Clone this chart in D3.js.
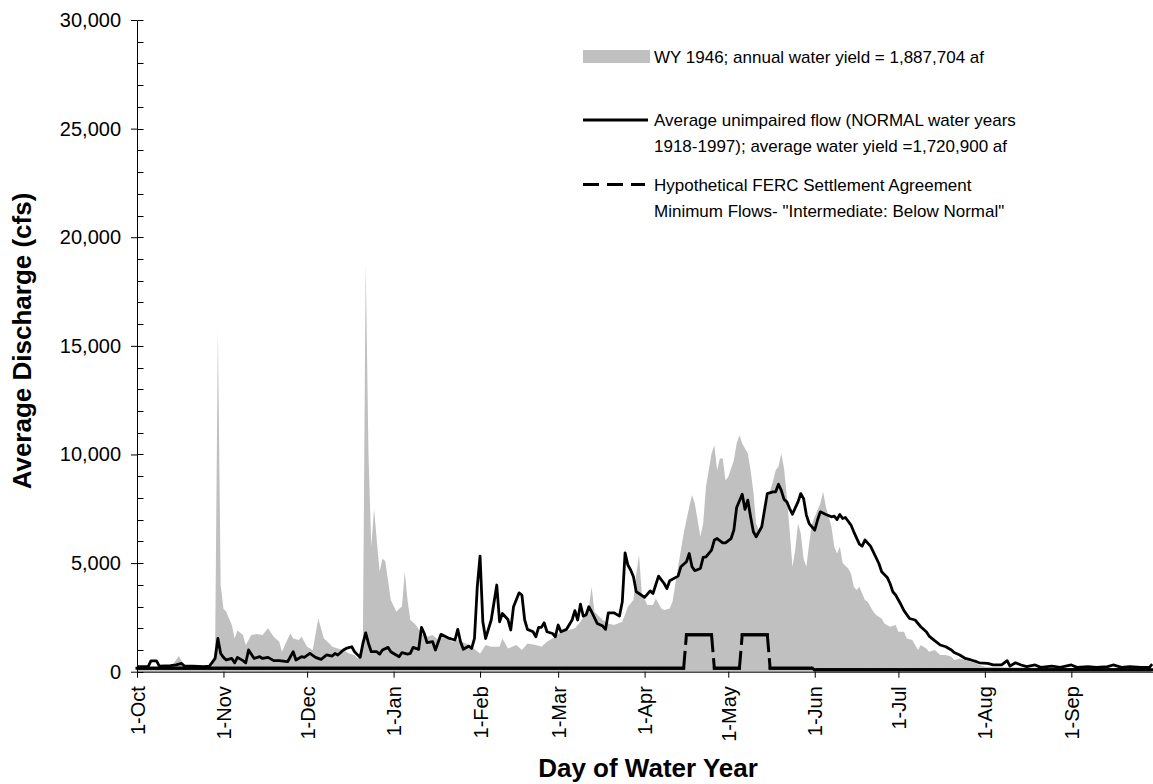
<!DOCTYPE html>
<html>
<head>
<meta charset="utf-8">
<script src="https://cdn.jsdelivr.net/npm/d3@7"></script>
<style>
  html, body { margin: 0; padding: 0; background: #fff; }
  svg { display: block; font-family: "Liberation Sans", Arial, sans-serif; }
</style>
</head>
<body>
<svg id="chart" width="1153" height="784"></svg>
<script>
// Month starts, as day of the water year (1 Oct = day 0)
const monthDays   = [0, 31, 61, 92, 123, 151, 182, 212, 243, 273, 304, 335];
const monthLabels = ["1-Oct", "1-Nov", "1-Dec", "1-Jan", "1-Feb", "1-Mar", "1-Apr", "1-May", "1-Jun", "1-Jul", "1-Aug", "1-Sep"];

const yMajorTicks = [0, 5000, 10000, 15000, 20000, 25000, 30000];
const yMinorTicks = [1000, 2000, 3000, 4000, 6000, 7000, 8000, 9000, 11000, 12000, 13000, 14000,
                     16000, 17000, 18000, 19000, 21000, 22000, 23000, 24000, 26000, 27000, 28000, 29000];

// WY 1946 daily discharge (cfs): [day of water year, cfs]
const wy1946 = [
  [0,150],[5,150],[10,200],[13,350],[15,720],[17,250],[20,200],[24,200],[27,250],[28,800],
  [29,15700],[30,4000],[31,2900],[32,2760],[33,2450],[34,2150],[35,1530],[36,1900],[38,1690],[39,1230],
  [41,1690],[43,1730],[45,1690],[47,2000],[49,1610],[51,1380],[52,920],[53,1230],[55,1760],[56,1530],
  [58,1460],[59,1610],[61,1150],[63,1000],[65,2450],[67,1530],[69,1300],[70,1150],[72,1070],[74,1000],
  [76,840],[78,770],[79,610],[80,700],[81,1500],[82,18800],[83,10000],[84,5750],[85,7500],[86,6000],
  [87,4600],[88,5200],[89,5100],[91,3300],[93,2760],[94,2900],[95,3000],[96,4600],[97,3300],[98,2380],
  [100,2150],[102,1760],[104,1610],[106,1690],[108,1460],[110,1610],[113,1380],[115,1460],[118,1300],[120,1150],
  [123,840],[125,1230],[127,1150],[130,1150],[131,1530],[133,1070],[136,1230],[138,1000],[140,1300],[143,1230],
  [145,1150],[147,1380],[150,1610],[152,1840],[155,1920],[157,2000],[159,2300],[162,2910],[163,3910],[164,2760],
  [167,2380],[169,2220],[171,2150],[174,2300],[176,2990],[178,3300],[179,4500],[180,5370],[181,3600],[183,3070],
  [185,3070],[186,3370],[188,2910],[189,2840],[191,2910],[192,3220],[194,4830],[196,6360],[198,7590],[199,8130],
  [200,7740],[201,6980],[202,6210],[203,6820],[204,8510],[206,10040],[207,10420],[208,9270],[209,9810],[210,9810],
  [211,8810],[212,8970],[214,9730],[215,10500],[216,10880],[217,10500],[219,10040],[220,9270],[221,8280],[222,6820],
  [223,6520],[225,7130],[226,7900],[228,8740],[229,9270],[230,9430],[231,10040],[232,9350],[233,8050],[234,6520],
  [235,4830],[236,5600],[237,6830],[238,6360],[239,5200],[240,4830],[241,5900],[242,6800],[243,7130],[245,7740],
  [246,8280],[247,7590],[249,6670],[250,5750],[251,5440],[252,5750],[253,5000],[255,4750],[256,4520],[257,3910],
  [258,3760],[259,3910],[261,3300],[262,3220],[263,2990],[264,2760],[265,2610],[267,2450],[268,2220],[270,2070],
  [272,2150],[273,1840],[275,1840],[276,1530],[278,1460],[280,1000],[281,1230],[283,1070],[284,920],[286,1000],
  [288,770],[290,770],[292,690],[293,540],[295,610],[297,540],[299,460],[301,380],[302,310],[304,230],
  [310,200],[320,180],[330,170],[340,160],[350,150],[364,150]
];

// Average unimpaired flow, NORMAL water years 1918-1997 (cfs): [day, cfs]
const normalAvg = [
  [0,230],[4,230],[5,500],[7,500],[8,260],[12,280],[14,310],[16,380],[17,260],[20,260],
  [24,230],[26,260],[28,610],[29,1530],[30,840],[31,660],[32,540],[34,610],[35,410],[36,660],
  [38,510],[39,410],[40,1000],[42,610],[44,690],[45,610],[47,660],[49,510],[51,510],[54,460],
  [56,920],[57,540],[59,690],[60,660],[62,840],[64,660],[66,570],[68,770],[70,720],[71,840],
  [72,770],[74,1000],[75,1070],[77,1150],[78,920],[80,660],[81,1300],[82,1790],[83,1300],[84,920],
  [86,920],[87,810],[88,1000],[90,1120],[91,920],[92,840],[94,690],[95,880],[97,810],[98,840],
  [99,1120],[101,1030],[102,2040],[103,1760],[104,1340],[106,1380],[107,1000],[109,1720],[112,1530],[114,1460],
  [115,1950],[116,1380],[117,1030],[119,1180],[120,1070],[121,1530],[122,3900],[123,5320],[124,2300],[125,1530],
  [127,2380],[129,3990],[130,2300],[131,2680],[133,2400],[134,1920],[135,2990],[137,3630],[138,3530],[139,2380],
  [140,1950],[142,1840],[143,1610],[144,2040],[145,2040],[146,2250],[147,1840],[149,1760],[150,1610],[151,2150],
  [152,1840],[154,1950],[156,2380],[157,2810],[158,2380],[159,3110],[160,2560],[161,2610],[162,2990],[163,2760],
  [165,2220],[167,2100],[168,1950],[169,2710],[171,2710],[173,2560],[174,3220],[175,5470],[176,4910],[177,4680],
  [178,4370],[179,3680],[180,3600],[182,3420],[184,3720],[185,3600],[187,4400],[189,4060],[190,3830],[191,4190],
  [194,4400],[195,4830],[197,5060],[198,5440],[199,4830],[200,4650],[202,4750],[203,5260],[204,5290],[206,5600],
  [207,6060],[208,6130],[210,5930],[211,5930],[213,6130],[214,6520],[215,7560],[217,8170],[218,7470],[219,7900],
  [220,7130],[221,6440],[222,6210],[224,6670],[225,7440],[226,8200],[228,8280],[229,8280],[230,8630],[231,8350],
  [232,7930],[233,7820],[234,7510],[235,7250],[237,7820],[238,8200],[239,7970],[240,7210],[241,6820],[243,6520],
  [244,6980],[245,7360],[247,7240],[249,7130],[250,7160],[251,7000],[252,7240],[253,7050],[254,7100],[256,6750],
  [257,6440],[259,5870],[260,5780],[261,6060],[263,5780],[264,5520],[266,4980],[267,4600],[269,4340],[270,4060],
  [271,3680],[272,3530],[274,3070],[275,2810],[277,2450],[279,2380],[281,2070],[283,1840],[284,1640],[286,1430],
  [288,1230],[290,1150],[292,1000],[293,880],[295,770],[297,610],[299,540],[301,460],[302,410],[305,380],
  [307,310],[310,310],[312,510],[313,260],[315,410],[317,310],[319,230],[322,310],[324,200],[328,260],
  [331,200],[335,310],[337,200],[341,230],[344,200],[348,230],[350,310],[353,200],[356,230],[360,200],
  [363,200],[364,350]
];

// Hypothetical FERC minimum flow schedule: [first day, last day, cfs]
const fercSchedule = [
  [0, 196, 160],
  [197, 206, 1700],
  [207, 216, 160],
  [217, 226, 1700],
  [227, 242, 160],
  [243, 364, 90]
];

const svg = d3.select("#chart");
const x = d3.scaleLinear().domain([0, 365]).range([137, 1155]);
const y = d3.scaleLinear().domain([0, 30000]).range([671.7, 20]);

// WY 1946 area
svg.append("path")
  .datum(wy1946)
  .attr("fill", "#c0c0c0")
  .attr("d", d3.area().x(d => x(d[0])).y0(y(0)).y1(d => y(d[1])));

// Daily FERC flows from the schedule; each daily segment is dashed on its own
const fercDaily = [];
fercSchedule.forEach(([a, b, v]) => { for (let d = a; d <= b; d++) fercDaily.push([d, v]); });
const fercG = svg.append("g");
for (let i = 0; i < fercDaily.length - 1; i++) {
  fercG.append("line")
    .attr("x1", x(fercDaily[i][0])).attr("y1", y(fercDaily[i][1]))
    .attr("x2", x(fercDaily[i + 1][0])).attr("y2", y(fercDaily[i + 1][1]))
    .attr("stroke", "#000").attr("stroke-width", 3)
    .attr("stroke-linecap", "square")
    .attr("stroke-dasharray", "16,9");
}

// Average unimpaired flow line
svg.append("path")
  .datum(normalAvg)
  .attr("fill", "none")
  .attr("stroke", "#000")
  .attr("stroke-width", 2.8)
  .attr("stroke-linejoin", "round")
  .attr("d", d3.line().x(d => x(d[0])).y(d => y(d[1])));

// Y axis
const yAxis = svg.append("g")
  .attr("transform", "translate(137,0)")
  .call(d3.axisLeft(y).tickValues(yMajorTicks).tickFormat(d3.format(",")).tickSize(6).tickSizeOuter(0).tickPadding(10));
yAxis.selectAll("text").attr("font-size", 20).attr("fill", "#000").attr("font-family", "Liberation Sans, Arial, sans-serif");
yAxis.selectAll("line, path").attr("stroke", "#000");
// inner halves of major ticks, and minor ticks
svg.append("g").selectAll("line").data(yMajorTicks.concat(yMinorTicks)).join("line")
  .attr("x1", 137.5).attr("x2", 143.5)
  .attr("y1", d => Math.round(y(d)) + 0.5).attr("y2", d => Math.round(y(d)) + 0.5)
  .attr("stroke", "#000");

// X axis
const xAxis = svg.append("g")
  .attr("transform", `translate(0,${y(0)})`)
  .call(d3.axisBottom(x).tickValues(monthDays).tickFormat((d, i) => monthLabels[i]).tickSize(6).tickSizeOuter(0));
xAxis.select(".domain").attr("stroke", "#000");
xAxis.selectAll("line").attr("stroke", "#000");
xAxis.selectAll("text")
  .attr("font-size", 20).attr("fill", "#000").attr("font-family", "Liberation Sans, Arial, sans-serif")
  .attr("transform", "rotate(-90)")
  .attr("x", -14.5).attr("y", 0).attr("dy", "0.35em")
  .style("text-anchor", "end");

// Axis titles
svg.append("text")
  .attr("transform", "translate(31,341) rotate(-90)")
  .attr("text-anchor", "middle")
  .attr("font-size", 26).attr("font-weight", "bold")
  .text("Average Discharge (cfs)");
svg.append("text")
  .attr("x", 648).attr("y", 777)
  .attr("text-anchor", "middle")
  .attr("font-size", 26).attr("font-weight", "bold")
  .text("Day of Water Year");

// Legend
const lg = svg.append("g").attr("font-size", 17);
lg.append("rect").attr("x", 583).attr("y", 50).attr("width", 67).attr("height", 13).attr("fill", "#c0c0c0");
lg.append("text").attr("x", 654).attr("y", 63).text("WY 1946; annual water yield = 1,887,704 af");
lg.append("line").attr("x1", 583).attr("x2", 648).attr("y1", 120).attr("y2", 120)
  .attr("stroke", "#000").attr("stroke-width", 2.8);
lg.append("text").attr("x", 654).attr("y", 126).text("Average unimpaired flow (NORMAL water years");
lg.append("text").attr("x", 654).attr("y", 152).text("1918-1997); average water yield =1,720,900 af");
lg.append("line").attr("x1", 583).attr("x2", 645).attr("y1", 184.5).attr("y2", 184.5)
  .attr("stroke", "#000").attr("stroke-width", 3).attr("stroke-dasharray", "16,8");
lg.append("text").attr("x", 654).attr("y", 191).text("Hypothetical FERC Settlement Agreement");
lg.append("text").attr("x", 654).attr("y", 217).text("Minimum Flows- \"Intermediate: Below Normal\"");
</script>
</body>
</html>
